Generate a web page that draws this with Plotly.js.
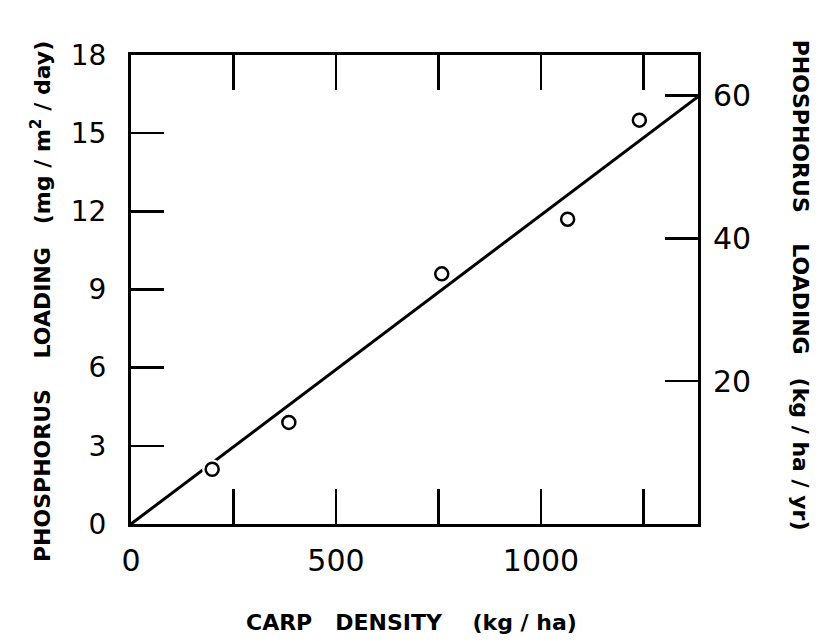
<!DOCTYPE html>
<html>
<head>
<meta charset="utf-8">
<script src="https://cdn.plot.ly/plotly-3.0.1.min.js"></script>
<style>html,body{margin:0;padding:0;background:#fff;}</style>
</head>
<body>
<div id="chart" style="width:822px;height:644px;"></div>
<script>
// Observed data (carp density kg/ha vs phosphorus loading mg/m2/day)
const carpDensity = [198, 385, 758, 1065, 1240];
const pLoading = [2.1, 3.9, 9.6, 11.7, 15.5];
// Fitted regression line end points
const fitX = [0, 1383];
const fitY = [0, 16.4];
// Axis ticks
const xLabelVals = [0, 500, 1000];
const xTickVals = [0, 250, 500, 750, 1000, 1250];
const yTickVals = [0, 3, 6, 9, 12, 15, 18];
const y2TickVals = [20, 40, 60];

const numFont = {family: 'DejaVu Sans, sans-serif', size: 30, color: '#000'};
const leftNumFont = {family: 'DejaVu Sans, sans-serif', size: 28, color: '#000'};
const titleFont = {family: 'DejaVu Sans, sans-serif', size: 22, color: '#000', weight: 'bold'};

const traces = [
  {x: fitX, y: fitY, mode: 'lines', line: {color: '#000', width: 3}, hoverinfo: 'skip', showlegend: false},
  {x: carpDensity, y: pLoading, mode: 'markers',
   marker: {symbol: 'circle', size: 20, color: '#fff', line: {width: 0}}, showlegend: false},
  {x: carpDensity, y: pLoading, mode: 'markers',
   marker: {symbol: 'circle-open', size: 13, color: '#000', line: {width: 2.5, color: '#000'}}, showlegend: false},
  {x: [0], y: [0], xaxis: 'x2', yaxis: 'y2', mode: 'markers', marker: {opacity: 0}, hoverinfo: 'skip', showlegend: false},
  {x: [0], y: [0], xaxis: 'x3', yaxis: 'y', mode: 'markers', marker: {opacity: 0}, hoverinfo: 'skip', showlegend: false}
];

const sp = '\u00a0';
const s = n => sp.repeat(n);
const tickCommon = {ticks: 'inside', ticklen: 35, tickwidth: 2.5, tickcolor: '#000', showgrid: false, zeroline: false};
const layout = {
  width: 822, height: 644,
  margin: {l: 131, r: 124, t: 55, b: 120},
  paper_bgcolor: '#fff', plot_bgcolor: '#fff',
  showlegend: false,
  xaxis: Object.assign({
    range: [0, 1383], tickvals: xLabelVals,
    showline: true, linewidth: 3, linecolor: '#000', mirror: true,
    tickfont: numFont, ticklabelstandoff: 8
  }, tickCommon),
  xaxis2: Object.assign({
    overlaying: 'x', side: 'top', range: [0, 1383], tickvals: xTickVals,
    showticklabels: false, showline: false
  }, tickCommon),
  xaxis3: Object.assign({
    overlaying: 'x', side: 'bottom', range: [0, 1383], tickvals: xTickVals,
    showticklabels: false, showline: false
  }, tickCommon),
  yaxis: Object.assign({
    range: [0, 18], tickvals: yTickVals,
    showline: true, linewidth: 3, linecolor: '#000', mirror: true,
    tickfont: leftNumFont, ticklabelstandoff: 16
  }, tickCommon, {ticklen: 33}),
  yaxis2: Object.assign({
    overlaying: 'y', side: 'right', range: [0, 65.7], tickvals: y2TickVals,
    showline: false, tickfont: numFont, ticklabelstandoff: 14
  }, tickCommon, {ticklen: 33}),
  annotations: [
    {text: 'PHOSPHORUS' + s(4) + 'LOADING' + s(3) + '(mg' + s(1) + '/' + s(1) + 'm<sup>2</sup>' + s(1) + '/' + s(1) + 'day)',
     xref: 'paper', yref: 'paper', x: -0.159, y: 0.475, textangle: -90,
     showarrow: false, font: titleFont, xanchor: 'center', yanchor: 'middle'},
    {text: 'PHOSPHORUS' + s(4) + 'LOADING' + s(3) + '(kg' + s(1) + '/' + s(1) + 'ha' + s(1) + '/' + s(1) + 'yr)',
     xref: 'paper', yref: 'paper', x: 1.18, y: 0.51, textangle: 90,
     showarrow: false, font: titleFont, xanchor: 'center', yanchor: 'middle'},
    {text: 'CARP' + s(3) + 'DENSITY' + s(4) + '(kg' + s(1) + '/' + s(1) + 'ha)',
     xref: 'paper', yref: 'paper', x: 0.495, y: -0.211,
     showarrow: false, font: titleFont, xanchor: 'center', yanchor: 'middle'}
  ]
};

Plotly.newPlot('chart', traces, layout, {displayModeBar: false, staticPlot: true});
</script>
</body>
</html>
